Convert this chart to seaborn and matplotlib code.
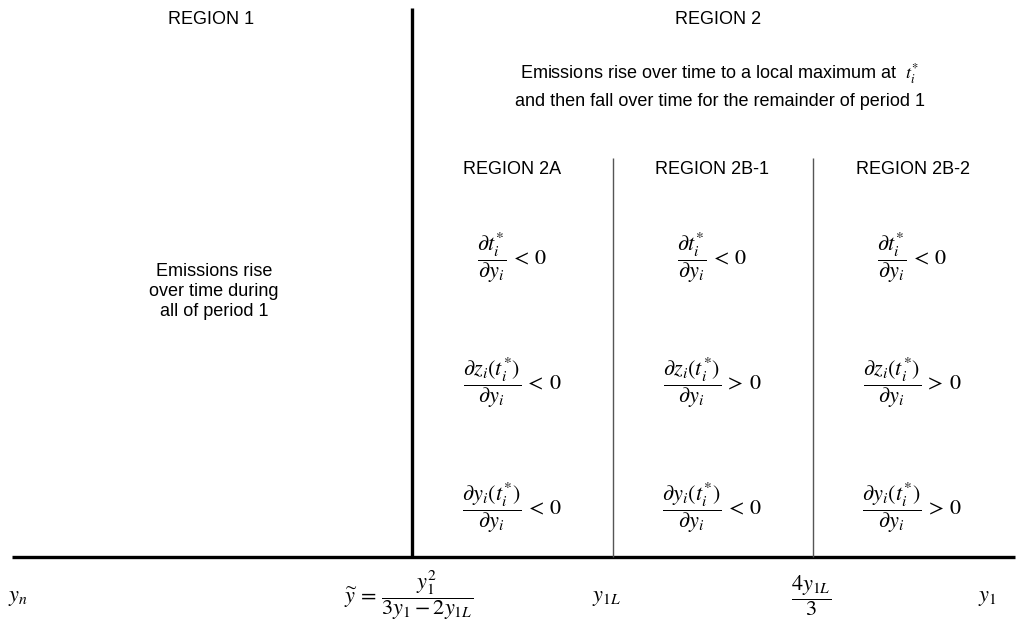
import matplotlib
matplotlib.use("Agg")
import matplotlib.pyplot as plt
import seaborn as sns
import pandas as pd

sns.set_theme(style="white")
plt.rcParams["font.family"] = ["Liberation Sans", "DejaVu Sans"]
plt.rcParams["mathtext.fontset"] = "stix"
plt.rcParams["text.color"] = "black"

# Region headings and descriptions
main_regions = ["REGION 1", "REGION 2"]
sub_regions = ["REGION 2A", "REGION 2B-1", "REGION 2B-2"]
region1_text = ["Emissions rise", "over time during", "all of period 1"]
region2_text = [r"Emissions rise over time to a local maximum at  $t_i^{*}$",
                "and then fall over time for the remainder of period 1"]

# Comparative-statics signs for each sub-region
derivatives = [r"\dfrac{\partial t_i^{*}}{\partial y_i}",
               r"\dfrac{\partial z_i(t_i^{*})}{\partial y_i}",
               r"\dfrac{\partial y_i(t_i^{*})}{\partial y_i}"]
signs_2a = ["<", "<", "<"]
signs_2b1 = ["<", ">", "<"]
signs_2b2 = ["<", ">", ">"]

# Threshold labels along the y_1 axis
axis_labels = [r"$y_n$",
               r"$\widetilde{y} \, = \, \dfrac{y_1^{2}}{3y_1 - 2y_{1L}}$",
               r"$y_{1L}$",
               r"$\dfrac{4y_{1L}}{3}$",
               r"$y_1$"]

fig = plt.figure(figsize=(10.26, 6.22), dpi=100)
ax = fig.add_axes([0, 0, 1, 1])
ax.set_xlim(0, 1026)
ax.set_ylim(622, 0)
ax.axis("off")

# Boundary lines
segments = [
    dict(x=[12, 1015], y=[557, 557], lw=2.4, c="black"),
    dict(x=[412, 412], y=[8, 557], lw=2.4, c="black"),
    dict(x=[613, 613], y=[158, 557], lw=1.0, c="#555555"),
    dict(x=[813, 813], y=[158, 557], lw=1.0, c="#555555"),
]
for s in segments:
    df = pd.DataFrame({"x": s["x"], "y": s["y"]})
    sns.lineplot(data=df, x="x", y="y", ax=ax, estimator=None, sort=False,
                 color=s["c"], linewidth=s["lw"], solid_capstyle="butt")
ax.set_xlabel("")
ax.set_ylabel("")

fs = 13
ax.text(211, 19, main_regions[0], ha="center", va="center", fontsize=fs)
ax.text(718, 19, main_regions[1], ha="center", va="center", fontsize=fs)
for txt, yy in zip(region2_text, [74, 101]):
    ax.text(720, yy, txt, ha="center", va="center", fontsize=fs)
for txt, xx in zip(sub_regions, [512, 712, 913]):
    ax.text(xx, 170, txt, ha="center", va="center", fontsize=fs)
for txt, yy in zip(region1_text, [271, 291, 311]):
    ax.text(214, yy, txt, ha="center", va="center", fontsize=fs)

mfs = 16
for signs, xx in zip([signs_2a, signs_2b1, signs_2b2], [512, 712, 912]):
    for d, sg, yy in zip(derivatives, signs, [258, 383, 508]):
        ax.text(xx, yy, rf"${d} \, {sg} \, 0$", ha="center", va="center",
                fontsize=mfs)

for lab, xx, yy in zip(axis_labels, [18, 409, 606, 811, 987],
                       [598, 596, 598, 596, 598]):
    ax.text(xx, yy, lab, ha="center", va="center", fontsize=mfs)

fig.savefig("out.png", dpi=100, facecolor="white")
